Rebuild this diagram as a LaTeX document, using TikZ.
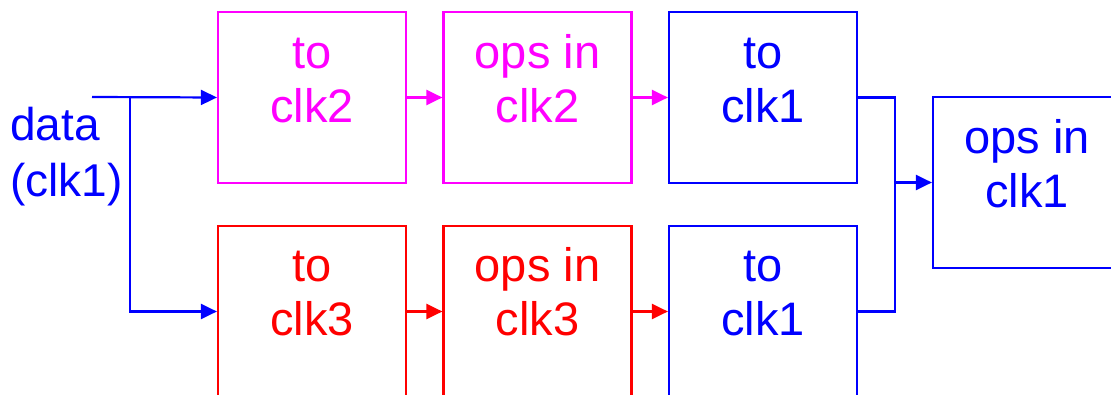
\documentclass[tikz,border=0pt]{standalone}
\usepackage{fontspec}
\setmainfont{Liberation Sans}
\usetikzlibrary{arrows.meta}
\definecolor{cmag}{RGB}{255,0,255}
\definecolor{cred}{RGB}{255,0,0}
\definecolor{cblue}{RGB}{0,0,255}
\tikzset{
  x=1pt, y=-1pt,
  stage/.style={draw, rectangle, line width=2.2pt, minimum width=188pt, minimum height=171pt, inner sep=0pt},
  stagetext/.style={align=center, inner sep=0pt, anchor=base, font=\fontsize{47}{54}\selectfont},
  wire/.style={line width=2.2pt},
  flow/.style={wire, -{Triangle[length=16pt,width=15pt]}},
}
\begin{document}
\begin{tikzpicture}
  \useasboundingbox (0,0) rectangle (1111,395);
  \clip (0,0) rectangle (1111,395);

  % upper path through clk2
  \node[stage, cmag]  (b1) at (312,97.5) {};
  \node[stage, cmag]  (b2) at (537.5,97.5) {};
  \node[stage, cblue] (b3) at (763,97.5) {};
  % lower path through clk3
  \node[stage, cred]  (c1) at (312,311.5) {};
  \node[stage, cred]  (c2) at (537.5,311.5) {};
  \node[stage, cblue] (c3) at (763,311.5) {};
  % final stage
  \node[stage, cblue] (r)  at (1027,182.5) {};

  % captions: anchored on the baseline of their second line
  \node[stagetext, cmag]  at ([yshift=-112pt]b1.north) {to\\clk2};
  \node[stagetext, cmag]  at ([yshift=-112pt]b2.north) {ops in\\clk2};
  \node[stagetext, cblue] at ([yshift=-112pt]b3.north) {to\\clk1};
  \node[stagetext, cred]  at ([yshift=-111pt]c1.north) {to\\clk3};
  \node[stagetext, cred]  at ([yshift=-111pt]c2.north) {ops in\\clk3};
  \node[stagetext, cblue] at ([yshift=-111pt]c3.north) {to\\clk1};
  \node[stagetext, cblue] at ([yshift=-112pt]r.north)  {ops in\\clk1};

  % input
  \node[cblue, align=left, inner sep=0pt, anchor=base west,
        font=\fontsize{46}{56}\selectfont] (data) at (10,197) {data\\(clk1)};
  \coordinate (in) at (92,97);
  \coordinate (split) at (130,97);
  \coordinate (join) at (895,182.5);

  \draw[flow, cblue] (in) -- (b1.west);
  \draw[flow, cblue] (split) |- (c1.west);
  \draw[flow, cmag] (b1.east) -- (b2.west);
  \draw[flow, cmag] (b2.east) -- (b3.west);
  \draw[flow, cred] (c1.east) -- (c2.west);
  \draw[flow, cred] (c2.east) -- (c3.west);

  % merge into the final stage
  \draw[wire, cblue] (b3.east) -| (join);
  \draw[wire, cblue] (c3.east) -| (join);
  \draw[flow, cblue] (join) -- (r.west);
\end{tikzpicture}
\end{document}
